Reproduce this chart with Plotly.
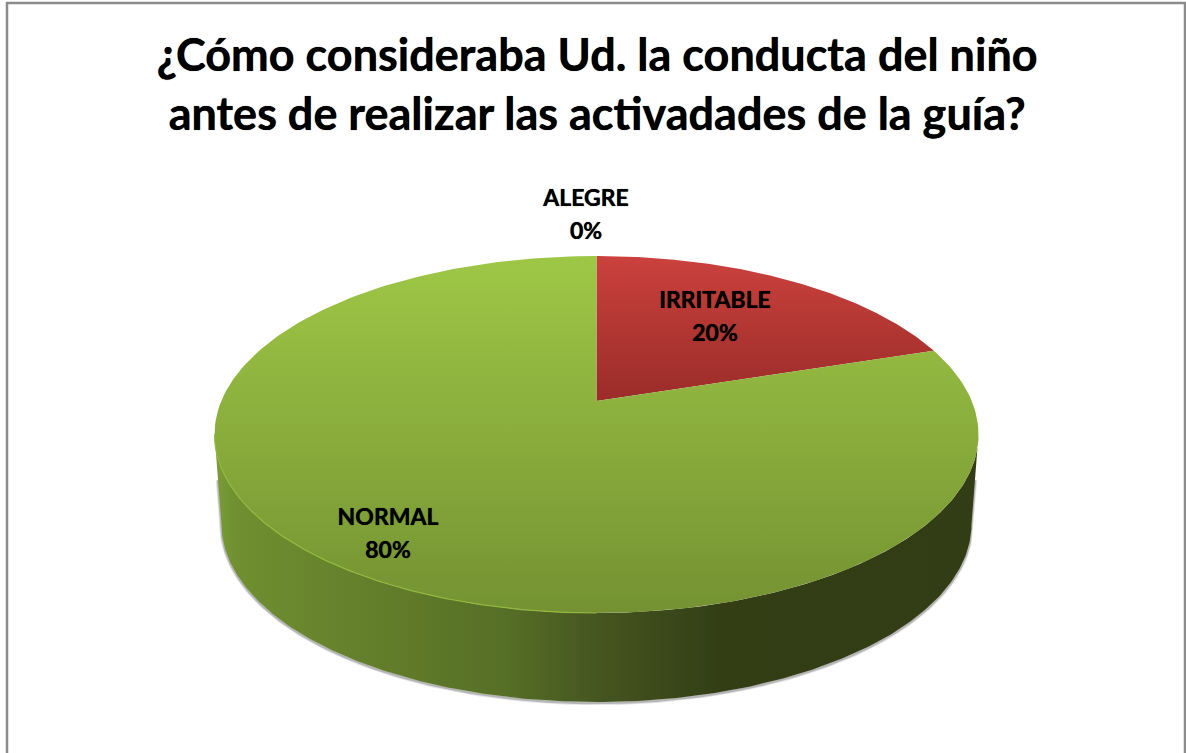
import numpy as np
import plotly.graph_objects as go

# ---- data ----
categories = ["ALEGRE", "IRRITABLE", "NORMAL"]
values = [0, 20, 80]
title_lines = ["¿Cómo consideraba Ud. la conducta del niño",
               "antes de realizar las activadades de la guía?"]

# ---- styling / layout constants (page pixels) ----
W, H = 1186, 753
CX, CY, RX, RY = 596.5, 434.5, 382.0, 178.5      # top face ellipse
BCY, BRX, BRY = 524.0, 375.0, 178.0              # bottom rim ellipse
APEX_SHIFT = 33.5                                # perspective shift of the pie centre
FONT = "Lato"
TEXT_SHADOW = "0 0 0.7px #000000"
label_xy = {"ALEGRE": (586, 200), "IRRITABLE": (715, 302), "NORMAL": (388, 519)}
LABEL_LINE_GAP = 33
top_scales = {
    "IRRITABLE": ["#9a2c29", "#cb413d"],
    "NORMAL": ["#749232", "#9fc746"],
}


def persp_param(theta):
    """Pie angle (clockwise from 12 o'clock) to ellipse parameter, through the 3-D perspective."""
    k = -APEX_SHIFT / RY
    u, v = np.sin(theta), np.cos(theta)
    d = 1 - k * v
    X = RX * np.sqrt(1 - k * k) * u / d
    Y = (RY * v + APEX_SHIFT) / d
    return np.arctan2(X / RX, Y / RY)


def slice_path(v0, v1, total):
    a0, a1 = 2 * np.pi * v0 / total, 2 * np.pi * v1 / total
    th = np.linspace(a0, a1, 240)
    t = np.unwrap(persp_param(th))
    xs = CX + RX * np.sin(t)
    ys = CY - RY * np.cos(t)
    return np.r_[CX, xs, CX], np.r_[CY - APEX_SHIFT, ys, CY - APEX_SHIFT]


fig = go.Figure()

# soft shadow around the lower wall outline, then the wall
ts = np.linspace(np.pi / 2, 3 * np.pi / 2, 300)
bx = CX + BRX * np.sin(ts)
by = BCY - BRY * np.cos(ts)
sx_off, sy_mid = (RX + BRX) / 2, (CY + BCY) / 2
for width, alpha in ((4.5, 0.18), (2.5, 0.4)):
    fig.add_trace(go.Scatter(x=np.r_[CX + sx_off, bx, CX - sx_off], y=np.r_[sy_mid, by, sy_mid] + 1.0,
                             mode="lines",
                             line=dict(color=f"rgba(110,110,110,{alpha})", width=width),
                             hoverinfo="skip", showlegend=False))

tt = np.linspace(np.pi / 2, 3 * np.pi / 2, 300)
wx = np.r_[CX + RX * np.sin(tt), bx[::-1]]
wy = np.r_[CY - RY * np.cos(tt), by[::-1]]
fig.add_trace(go.Scatter(
    x=wx, y=wy, mode="lines", fill="toself", line=dict(width=0, color="rgba(0,0,0,0)"),
    fillgradient=dict(type="horizontal", colorscale=[
        [0.00, "#7b9c38"], [0.03, "#6f8f30"], [0.20, "#647f2b"],
        [0.38, "#566f26"], [0.50, "#465620"], [0.66, "#333e15"], [1.00, "#323d15"]]),
    hoverinfo="skip", showlegend=False))

# top faces of the slices
total = sum(values)
cum = 0
for name, val in zip(categories, values):
    if val > 0:
        px, py = slice_path(cum, cum + val, total)
        c0, c1 = top_scales[name]
        fig.add_trace(go.Scatter(
            x=px, y=py, mode="lines", fill="toself",
            line=dict(width=0, color="rgba(0,0,0,0)"),
            fillgradient=dict(type="vertical", colorscale=[[0, c0], [1, c1]]),
            name=name, hoverinfo="name", showlegend=False))
    cum += val

# bevel highlight on the front left rim
tr = np.linspace(np.pi, 1.5 * np.pi, 160)
fig.add_trace(go.Scatter(x=CX + RX * np.sin(tr), y=CY - RY * np.cos(tr), mode="lines",
                         line=dict(color="#93b83e", width=1.2),
                         hoverinfo="skip", showlegend=False))

# labels: category name and percentage
label_font = dict(family=FONT, size=23, color="#000000", weight=700, shadow=TEXT_SHADOW)
fig.add_trace(go.Scatter(
    x=[label_xy[c][0] for c in categories],
    y=[label_xy[c][1] for c in categories],
    mode="text", text=categories, textposition="middle center", textfont=label_font,
    hoverinfo="skip", showlegend=False))
fig.add_trace(go.Scatter(
    x=[label_xy[c][0] for c in categories],
    y=[label_xy[c][1] + LABEL_LINE_GAP for c in categories],
    mode="text", text=[f"{round(100 * v / total)}%" for v in values],
    textposition="middle center", textfont=label_font,
    hoverinfo="skip", showlegend=False))

fig.update_layout(
    width=W, height=H, margin=dict(l=0, r=0, t=0, b=0, pad=0), autosize=False,
    paper_bgcolor="#ffffff", plot_bgcolor="#ffffff", showlegend=False,
    xaxis=dict(range=[0, W], visible=False, fixedrange=True),
    yaxis=dict(range=[H, 0], visible=False, fixedrange=True),
    title=dict(text="<br>".join(title_lines), x=0.5035, xanchor="center",
               y=0.9055, yanchor="middle",
               font=dict(family=FONT, size=45, color="#000000", weight=700, shadow=TEXT_SHADOW)),
    shapes=[dict(type="rect", xref="x", yref="y", x0=7, y0=3, x1=1185, y1=H + 10,
                 line=dict(color="#8c8c8c", width=2.5), fillcolor="rgba(0,0,0,0)", layer="below")],
)

fig.write_html("out.html", config={"displayModeBar": False},
               post_script="document.body.style.margin='0';document.body.style.overflow='hidden';")
